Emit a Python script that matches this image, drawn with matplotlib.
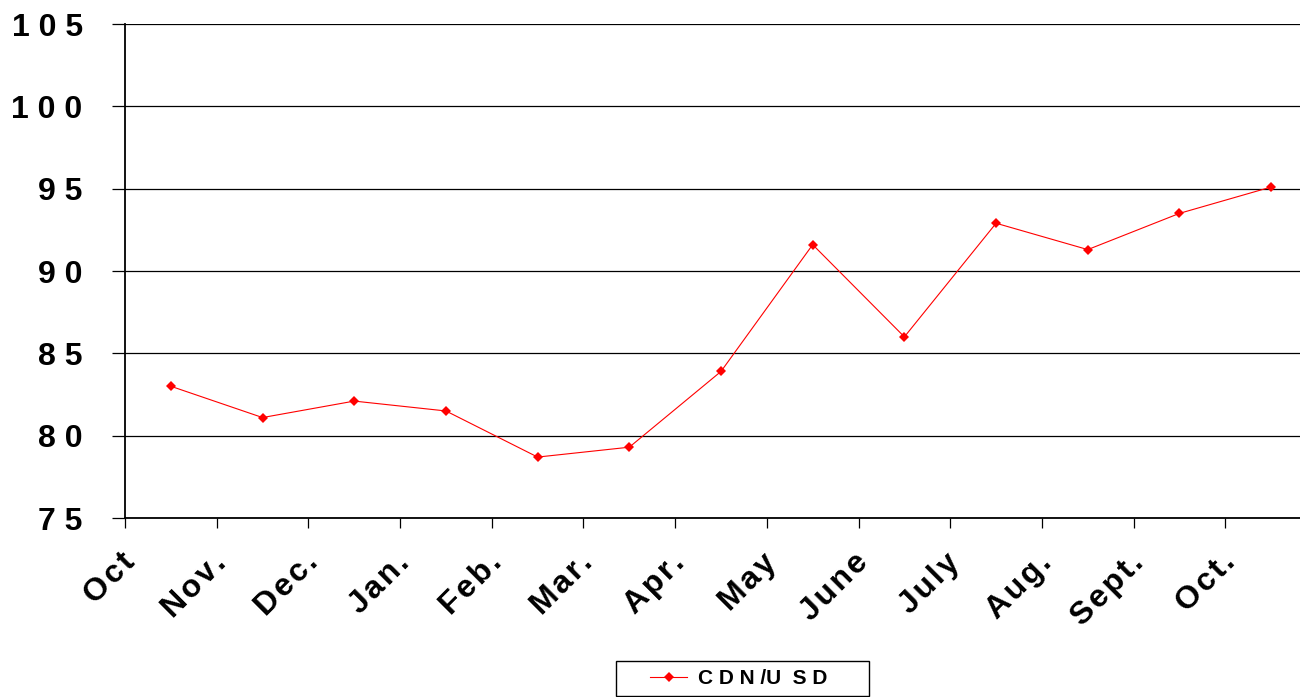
import matplotlib
matplotlib.use("Agg")
import matplotlib.pyplot as plt
import matplotlib.transforms as mtransforms
from matplotlib.lines import Line2D
from matplotlib.patches import Rectangle
import numpy as np

months = ["Oct", "Nov.", "Dec.", "Jan.", "Feb.", "Mar.", "Apr.",
          "May", "June", "July", "Aug.", "Sept.", "Oct."]
cdn_usd = [83.0, 81.1, 82.1, 81.5, 78.7, 79.3, 83.9,
           91.6, 86.0, 92.9, 91.3, 93.5, 95.1]
y_ticks = [75, 80, 85, 90, 95, 100, 105]
series_name = "C D N /U  S D"

FONT = ["Liberation Sans", "DejaVu Sans"]
plt.rcParams['font.family'] = FONT

fig = plt.figure(figsize=(13, 6.97), dpi=100)
# plot area runs past the right edge of the picture, as in the original
ax = fig.add_axes([125 / 1300, 1 - 518 / 697, 1192 / 1300, 494 / 697])

x = np.arange(len(months)) + 0.5
ax.plot(x, cdn_usd, color='#ff0000', linewidth=0.8,
        marker='D', markersize=5, markeredgewidth=0)

ax.set_xlim(0, len(months))
ax.set_ylim(75, 105)

# gridlines
ax.set_yticks(y_ticks)
ax.yaxis.grid(True, color='black', linewidth=0.9)
ax.set_axisbelow(True)
ax.set_yticklabels([" ".join(str(v)) for v in y_ticks],
                   fontsize=23, fontweight='bold')
ax.tick_params(axis='y', length=9.5, width=0.9, pad=21, direction='out')

# category boundaries as ticks, labels drawn separately
ax.set_xticks(np.arange(len(months) + 1))
ax.set_xticklabels([])
ax.tick_params(axis='x', length=7.5, width=0.9, direction='out')

offset = mtransforms.ScaledTranslation(11 / 100, -46 / 100, fig.dpi_scale_trans)
trans = ax.get_xaxis_transform() + offset
for i, m in enumerate(months):
    ax.text(i, 0, "\u200a".join(m), transform=trans, rotation=45,
            rotation_mode='anchor', ha='right', va='baseline',
            fontsize=23, fontweight='bold')

for side in ['top', 'right']:
    ax.spines[side].set_visible(False)
for side in ['left', 'bottom']:
    ax.spines[side].set_linewidth(1.3)
    ax.spines[side].set_color('black')

# legend: frame drawn as its own box so the padding matches
handle = Line2D([], [], color='#ff0000', linewidth=0.8, marker='D',
                markersize=5, markeredgewidth=0)
leg = fig.legend([handle], [series_name], loc='center',
                 bbox_to_anchor=(738.5 / 1300, 1 - 679 / 697), frameon=False,
                 handlelength=1.8, handletextpad=0.5,
                 prop={'size': 15, 'weight': 'bold'})
fig.patches.append(Rectangle((616 / 1300, 1.5 / 697), 253 / 1300, 35 / 697,
                             transform=fig.transFigure, fill=False,
                             edgecolor='black', linewidth=1.0))

fig.savefig("out.png", dpi=100, facecolor='white')
